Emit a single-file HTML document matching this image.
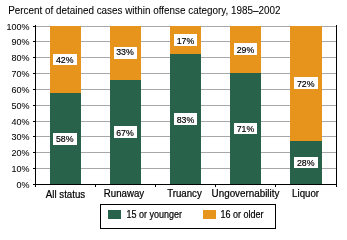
<!DOCTYPE html>
<html><head><meta charset="utf-8">
<style>
html,body{margin:0;padding:0;background:#fff;}
body{width:347px;height:235px;overflow:hidden;}
svg{display:block;will-change:transform;}
text{font-family:"Liberation Sans",sans-serif;fill:#000;stroke:#000;}
</style></head><body>
<svg width="347" height="235" viewBox="0 0 347 235">
<rect x="0" y="0" width="347" height="235" fill="#fff"/>
<text id="title" x="8.2" y="14" font-size="9.9" stroke-width="0.06" transform="translate(0,14) scale(1,1.1) translate(0,-14)">Percent of detained cases within offense category, 1985–2002</text>
<g stroke="#a5a9ac" stroke-width="1">
<line x1="36" y1="26.5" x2="336" y2="26.5"/>
<line x1="36" y1="41.5" x2="336" y2="41.5"/>
<line x1="36" y1="57.5" x2="336" y2="57.5"/>
<line x1="36" y1="73.5" x2="336" y2="73.5"/>
<line x1="36" y1="89.5" x2="336" y2="89.5"/>
<line x1="36" y1="105.5" x2="336" y2="105.5"/>
<line x1="36" y1="121.5" x2="336" y2="121.5"/>
<line x1="36" y1="136.5" x2="336" y2="136.5"/>
<line x1="36" y1="152.5" x2="336" y2="152.5"/>
<line x1="36" y1="168.5" x2="336" y2="168.5"/>
</g>
<g fill="#e6941c">
<rect x="50" y="26" width="31" height="158"/>
<rect x="110" y="26" width="31" height="158"/>
<rect x="170" y="26" width="31" height="158"/>
<rect x="230" y="26" width="31" height="158"/>
<rect x="290" y="26" width="32" height="158"/>
</g>
<g fill="#28624a">
<rect x="50" y="93" width="31" height="91"/>
<rect x="110" y="80" width="31" height="104"/>
<rect x="170" y="54" width="31" height="130"/>
<rect x="230" y="73" width="31" height="111"/>
<rect x="290" y="141" width="32" height="43"/>
</g>
<g stroke="#000" stroke-width="1">
<line x1="35.5" y1="25" x2="35.5" y2="187"/>
<line x1="336.5" y1="25" x2="336.5" y2="187"/>
<line x1="33" y1="184.5" x2="337" y2="184.5"/>
<line x1="33" y1="26.5" x2="35" y2="26.5"/>
<line x1="33" y1="41.5" x2="35" y2="41.5"/>
<line x1="33" y1="57.5" x2="35" y2="57.5"/>
<line x1="33" y1="73.5" x2="35" y2="73.5"/>
<line x1="33" y1="89.5" x2="35" y2="89.5"/>
<line x1="33" y1="105.5" x2="35" y2="105.5"/>
<line x1="33" y1="121.5" x2="35" y2="121.5"/>
<line x1="33" y1="136.5" x2="35" y2="136.5"/>
<line x1="33" y1="152.5" x2="35" y2="152.5"/>
<line x1="33" y1="168.5" x2="35" y2="168.5"/>
<line x1="95.5" y1="185" x2="95.5" y2="187"/>
<line x1="155.5" y1="185" x2="155.5" y2="187"/>
<line x1="215.5" y1="185" x2="215.5" y2="187"/>
<line x1="275.5" y1="185" x2="275.5" y2="187"/>
</g>
<g font-size="9" text-anchor="end" id="ylab" stroke-width="0.05">
<text x="29.5" y="30" transform="translate(0,30) scale(1,1.08) translate(0,-30)">100%</text>
<text x="29.5" y="45" transform="translate(0,45) scale(1,1.08) translate(0,-45)">90%</text>
<text x="29.5" y="61" transform="translate(0,61) scale(1,1.08) translate(0,-61)">80%</text>
<text x="29.5" y="77" transform="translate(0,77) scale(1,1.08) translate(0,-77)">70%</text>
<text x="29.5" y="93" transform="translate(0,93) scale(1,1.08) translate(0,-93)">60%</text>
<text x="29.5" y="109" transform="translate(0,109) scale(1,1.08) translate(0,-109)">50%</text>
<text x="29.5" y="125" transform="translate(0,125) scale(1,1.08) translate(0,-125)">40%</text>
<text x="29.5" y="140" transform="translate(0,140) scale(1,1.08) translate(0,-140)">30%</text>
<text x="29.5" y="156" transform="translate(0,156) scale(1,1.08) translate(0,-156)">20%</text>
<text x="29.5" y="172" transform="translate(0,172) scale(1,1.08) translate(0,-172)">10%</text>
<text x="29.5" y="188" transform="translate(0,188) scale(1,1.08) translate(0,-188)">0%</text>
</g>
<g fill="#fff">
<rect x="53" y="54" width="24" height="11"/>
<rect x="53" y="133" width="24" height="12"/>
<rect x="114" y="47" width="23" height="12"/>
<rect x="114" y="126" width="23" height="12"/>
<rect x="174" y="34" width="23" height="12"/>
<rect x="174" y="113" width="23" height="12"/>
<rect x="234" y="43" width="23" height="12"/>
<rect x="234" y="123" width="23" height="11"/>
<rect x="294" y="77" width="24" height="12"/>
<rect x="294" y="157" width="24" height="11"/>
</g>
<g font-size="8.8" text-anchor="middle" id="vlab" stroke-width="0.17">
<text x="64.8" y="62.60" transform="translate(0,62.60) scale(1,1.1) translate(0,-62.60)">42%</text>
<text x="64.8" y="142.20" transform="translate(0,142.20) scale(1,1.1) translate(0,-142.20)">58%</text>
<text x="125" y="55.50" transform="translate(0,55.50) scale(1,1.1) translate(0,-55.50)">33%</text>
<text x="125" y="135.70" transform="translate(0,135.70) scale(1,1.1) translate(0,-135.70)">67%</text>
<text x="185.5" y="43.70" transform="translate(0,43.70) scale(1,1.1) translate(0,-43.70)">17%</text>
<text x="185.5" y="122.70" transform="translate(0,122.70) scale(1,1.1) translate(0,-122.70)">83%</text>
<text x="245.5" y="52.70" transform="translate(0,52.70) scale(1,1.1) translate(0,-52.70)">29%</text>
<text x="245.5" y="131.70" transform="translate(0,131.70) scale(1,1.1) translate(0,-131.70)">71%</text>
<text x="305.7" y="86.70" transform="translate(0,86.70) scale(1,1.1) translate(0,-86.70)">72%</text>
<text x="305.7" y="165.70" transform="translate(0,165.70) scale(1,1.1) translate(0,-165.70)">28%</text>
</g>
<g font-size="9.7" text-anchor="middle" id="clab" stroke-width="0.2">
<text x="65.5" y="197.80" transform="translate(0,197.80) scale(1,1.05) translate(0,-197.80)">All status</text>
<text x="124" y="197.40" transform="translate(0,197.40) scale(1,1.05) translate(0,-197.40)">Runaway</text>
<text x="184.5" y="197.40" transform="translate(0,197.40) scale(1,1.05) translate(0,-197.40)">Truancy</text>
<text x="245.5" y="197.40" transform="translate(0,197.40) scale(1,1.05) translate(0,-197.40)"><tspan font-size="9.85">Ungovernability</tspan></text>
<text x="305.6" y="197.40" transform="translate(0,197.40) scale(1,1.05) translate(0,-197.40)">Liquor</text>
</g>
<rect x="100.5" y="204.5" width="175" height="24" fill="none" stroke="#000" stroke-width="1"/>
<rect x="108" y="210" width="13" height="9" fill="#28624a"/>
<rect x="203" y="210" width="13" height="9" fill="#e6941c"/>
<g font-size="9" id="leg" stroke-width="0.18">
<text x="126.5" y="217.80" transform="translate(0,217.80) scale(1,1.12) translate(0,-217.80)">15 or younger</text>
<text x="220.5" y="217.80" transform="translate(0,217.80) scale(1,1.12) translate(0,-217.80)">16 or older</text>
</g>
</svg>
</body></html>
